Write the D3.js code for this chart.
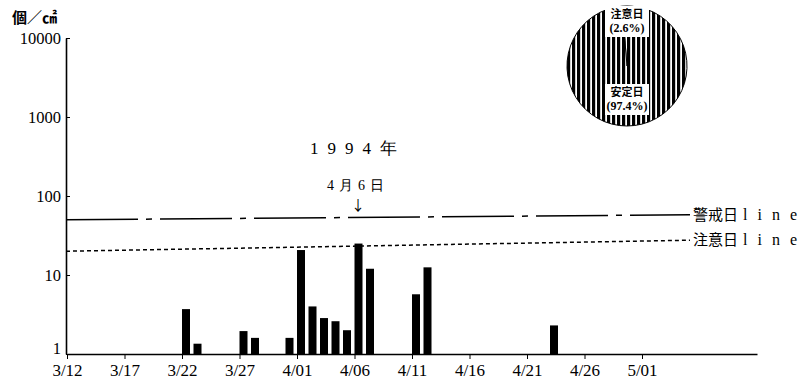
<!DOCTYPE html>
<html>
<head>
<meta charset="utf-8">
<script src="https://cdn.jsdelivr.net/npm/d3@7"></script>
<style>
  body { margin: 0; background: #fff; }
  svg { display: block; }
  text { fill: #000; }
</style>
</head>
<body>
<div id="chart"></div>
<script>
// bar data (days with count above 1)
const barDates = ['3/22', '3/23', '3/27', '3/28', '3/31', '4/01', '4/02', '4/03', '4/04', '4/05', '4/06', '4/07', '4/11', '4/12', '4/23'];
const barValues = [3.7, 1.35, 1.95, 1.6, 1.6, 20.7, 4.0, 2.85, 2.6, 2.0, 25, 12, 5.7, 12.5, 2.3];

// x tick labels and y ticks
const xTickLabels = ['3/12', '3/17', '3/22', '3/27', '4/01', '4/06', '4/11', '4/16', '4/21', '4/26', '5/01'];
const yTicks = [1, 10, 100, 1000, 10000];

// reference lines
const refLabels = ['警戒日', '注意日'];
const refValues = [50, 20];

// pie data
const pieLabels = ['注意日', '安定日'];
const pieValues = [2.6, 97.4];

const width = 806, height = 385;
const parse = s => { const [m, d] = s.split('/').map(Number); return new Date(1994, m - 1, d); };

const svg = d3.select('#chart').append('svg')
    .attr('width', width)
    .attr('height', height);

const x = d3.scaleTime()
    .domain([new Date(1994, 2, 12), new Date(1994, 4, 11)])
    .range([67, 757]);

const y = d3.scaleLog()
    .domain([1, 10000])
    .range([354, 38]);

const serif = '"Liberation Serif", "DejaVu Serif", serif';
const cjk = '"Noto Sans CJK JP", sans-serif';

// bars
svg.append('g')
    .selectAll('rect')
    .data(barDates.map((d, i) => ({ date: parse(d), value: barValues[i] })))
    .enter()
    .append('rect')
    .attr('x', d => x(d.date))
    .attr('width', 8)
    .attr('y', d => y(d.value))
    .attr('height', d => y(1) - y(d.value))
    .attr('fill', '#000');

// x axis
const xAxis = svg.append('g')
    .attr('transform', `translate(0, ${y(1)})`)
    .call(d3.axisBottom(x)
        .tickValues(xTickLabels.map(parse))
        .tickFormat((d, i) => xTickLabels[i])
        .tickSize(5)
        .tickSizeOuter(0));
xAxis.select('.domain').attr('stroke-width', 1.6);
xAxis.selectAll('text')
    .attr('font-family', serif)
    .attr('font-size', 17)
    .attr('dy', '0.8em');

// y axis
const yAxis = svg.append('g')
    .attr('transform', 'translate(66, 0)')
    .call(d3.axisLeft(y)
        .tickValues(yTicks)
        .tickFormat(d3.format('d'))
        .tickSize(5)
        .tickSizeOuter(0));
yAxis.select('.domain').attr('stroke-width', 1.6);
yAxis.selectAll('.tick line').attr('x2', 4);
yAxis.selectAll('text')
    .attr('font-family', serif)
    .attr('font-size', 16.5)
    .attr('x', -5)
    .attr('y', d => d === 1 ? -6 : 0);

// y axis unit
svg.append('text')
    .attr('x', 12).attr('y', 23)
    .attr('font-family', cjk)
    .attr('font-size', 15)
    .attr('font-weight', 'bold')
    .text('個／㎠');

// reference lines (scan is slightly tilted)
const dashes = ['72,8,6,8', '4,3'];
const tilt = [5, 11];
refValues.forEach((v, i) => {
    svg.append('line')
        .attr('x1', 66).attr('x2', 690)
        .attr('y1', y(v)).attr('y2', y(v) - tilt[i])
        .attr('stroke', '#000')
        .attr('stroke-width', 1.5)
        .attr('stroke-dasharray', dashes[i]);
    const t = svg.append('text')
        .attr('x', 693).attr('y', y(v) - tilt[i] + 5)
        .attr('font-family', cjk)
        .attr('font-size', 15);
    t.append('tspan').text(refLabels[i]);
    t.append('tspan')
        .attr('font-family', serif)
        .attr('font-size', 16)
        .attr('dx', 5)
        .attr('letter-spacing', 10)
        .text('line');
});

// title and annotation
svg.append('text')
    .attr('x', 358).attr('y', 154)
    .attr('text-anchor', 'middle')
    .attr('font-family', serif)
    .attr('font-size', 17)
    .attr('letter-spacing', 9)
    .text('1994年');

svg.append('text')
    .attr('x', 358).attr('y', 190)
    .attr('text-anchor', 'middle')
    .attr('font-family', serif)
    .attr('font-size', 14)
    .attr('letter-spacing', 5)
    .text('4月6日');

svg.append('text')
    .attr('x', 358).attr('y', 210)
    .attr('text-anchor', 'middle')
    .attr('font-family', cjk)
    .attr('font-size', 14)
    .text('↓');

// pie chart with vertical stripe pattern
const defs = svg.append('defs');
const pat = defs.append('pattern')
    .attr('id', 'stripes')
    .attr('patternUnits', 'userSpaceOnUse')
    .attr('width', 5).attr('height', 10);
pat.append('rect').attr('width', 5).attr('height', 10).attr('fill', '#fff');
pat.append('rect').attr('width', 3.2).attr('height', 10).attr('fill', '#000');

const pieG = svg.append('g')
    .attr('transform', 'translate(627, 66)');
const radius = 60;

const pie = d3.pie()
    .sort(null)
    .startAngle(-0.082)
    .endAngle(2 * Math.PI - 0.082)
    .value(d => d);
const arc = d3.arc().innerRadius(0).outerRadius(radius);

pieG.selectAll('path')
    .data(pie(pieValues))
    .enter()
    .append('path')
    .attr('d', arc)
    .attr('fill', 'url(#stripes)')
    .attr('stroke', '#000')
    .attr('stroke-width', 1);

const pieText = [
    { lines: [pieLabels[0], `(${pieValues[0]}%)`], y: -48 },
    { lines: [pieLabels[1], `(${pieValues[1]}%)`], y: 30 }
];
pieText.forEach(p => {
    pieG.append('rect')
        .attr('x', -22).attr('y', p.y - 12)
        .attr('width', 44).attr('height', 31)
        .attr('fill', '#fff');
    p.lines.forEach((l, j) => {
        pieG.append('text')
            .attr('x', 0).attr('y', p.y + j * 14)
            .attr('text-anchor', 'middle')
            .attr('font-family', j === 0 ? cjk : serif)
            .attr('font-size', j === 0 ? 11 : 12)
            .attr('font-weight', 'bold')
            .text(l);
    });
});
</script>
</body>
</html>
